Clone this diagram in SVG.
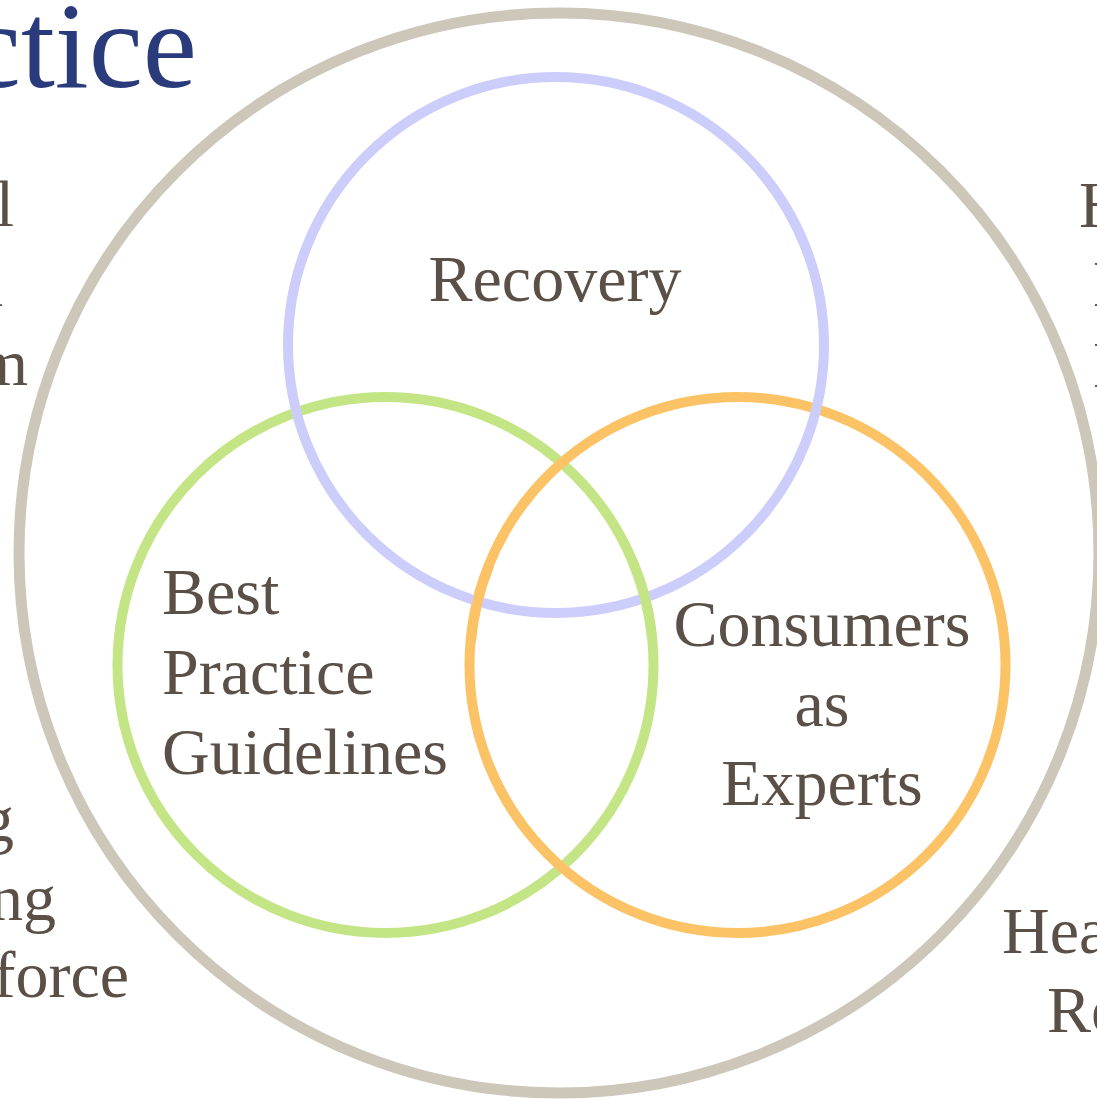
<svg xmlns="http://www.w3.org/2000/svg" width="1097" height="1100" viewBox="0 0 1097 1100">
  <style>
    .ring { fill: none; stroke-width: 10; }
    .outer { stroke: #CDC7B9; stroke-width: 11; }
    .lav { stroke: #CDCDFB; }
    .grn { stroke: #C4E586; }
    .org { stroke: #FBC366; }
    .lbl { font-family: "Liberation Serif", "Times New Roman", serif; font-size: 66px; fill: #5A5047; }
    .title { font-family: "Liberation Serif", "Times New Roman", serif; font-size: 122px; fill: #2A3B7B; }
  </style>
  <rect width="1097" height="1100" fill="#FFFFFF"/>

  <g id="title">
    <text class="title" x="197" y="87" text-anchor="end">Practice</text>
  </g>

  <g id="outer-circle">
    <circle class="ring outer" cx="559" cy="553" r="540"/>
  </g>

  <g id="side-left-top">
    <text class="lbl" x="14" y="226" text-anchor="end">Mental</text>
    <text class="lbl" x="3" y="306" text-anchor="end">Health</text>
    <text class="lbl" x="28" y="385" text-anchor="end">System</text>
  </g>
  <g id="side-left-bottom">
    <text class="lbl" x="14" y="841" text-anchor="end">Strong</text>
    <text class="lbl" x="56" y="920" text-anchor="end">Training</text>
    <text class="lbl" x="129" y="997" text-anchor="end">Workforce</text>
  </g>
  <g id="side-right-top">
    <text class="lbl" x="1079" y="227">Housing</text>
    <text class="lbl" x="1093" y="306">Employment</text>
    <text class="lbl" x="1093" y="387">Education</text>
  </g>
  <g id="side-right-bottom">
    <text class="lbl" x="1002" y="953">Health</text>
    <text class="lbl" x="1047" y="1032">Research</text>
  </g>

  <g id="connectors">
    <circle id="ring-green" class="ring grn" cx="385.5" cy="665" r="268"/>
    <circle id="ring-orange" class="ring org" cx="737.5" cy="665" r="268"/>
    <circle id="ring-recovery" class="ring lav" cx="556" cy="345" r="268"/>
    <path class="ring org" d="M471.0,641.6 A268,268 0 0 1 489.5,564.6"/>
    <path class="ring grn" d="M632.2,560.3 A268,268 0 0 1 652.0,637.0"/>
  </g>

  <g id="node-recovery">
    <text class="lbl" x="555" y="301" text-anchor="middle">Recovery</text>
  </g>
  <g id="node-best-practice">
    <text class="lbl" x="162" y="614">Best</text>
    <text class="lbl" x="162" y="694">Practice</text>
    <text class="lbl" x="162" y="774">Guidelines</text>
  </g>
  <g id="node-consumers">
    <text class="lbl" x="822" y="646" text-anchor="middle">Consumers</text>
    <text class="lbl" x="822" y="726" text-anchor="middle">as</text>
    <text class="lbl" x="822" y="805" text-anchor="middle">Experts</text>
  </g>
</svg>
